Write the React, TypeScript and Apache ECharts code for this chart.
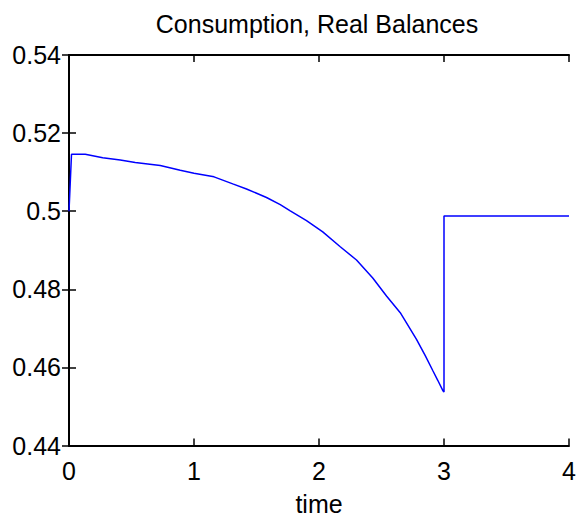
import React, { useEffect, useRef } from "react";
import * as echarts from "echarts";

const titleText = "Consumption, Real Balances";
const xLabel = "time";
const xTicks = { min: 0, max: 4, interval: 1 };
const yTicks = { min: 0.44, max: 0.54, interval: 0.02 };

const timeValues = [
  0, 0.02, 0.13, 0.27, 0.41, 0.53, 0.73, 0.89, 1.0, 1.16, 1.31, 1.42, 1.58,
  1.69, 1.77, 1.9, 2.03, 2.17, 2.3, 2.43, 2.54, 2.65, 2.78, 2.85, 2.91, 2.95,
  2.99, 3.0, 3.0, 4.0,
];
const consumptionValues = [
  0.5, 0.5146, 0.5146, 0.5137, 0.5131, 0.5125, 0.5117, 0.5105, 0.5097, 0.5088,
  0.507, 0.5057, 0.5035, 0.5017, 0.5001, 0.4976, 0.4947, 0.4909, 0.4875,
  0.4829, 0.4783, 0.474, 0.4672, 0.463, 0.4592, 0.4567, 0.4541, 0.4537,
  0.4988, 0.4988,
];

const FONT = "'Liberation Sans', Arial, Helvetica, sans-serif";

export default function App() {
  const ref = useRef<HTMLDivElement>(null);
  useEffect(() => {
    document.body.style.margin = "0";
    if (!ref.current) return;
    const chart = echarts.init(ref.current, null, { renderer: "svg" });
    const data = timeValues.map((t, i) => [t, consumptionValues[i]]);
    const axisLine = { show: true, lineStyle: { color: "#000", width: 2 } };
    const axisTick = {
      show: true,
      inside: true,
      length: 7,
      lineStyle: { color: "#000", width: 1.5 },
    };
    chart.setOption({
      animation: false,
      backgroundColor: "#fff",
      textStyle: { fontFamily: FONT },
      grid: { left: 69, right: 11, top: 55, bottom: 72, containLabel: false },
      graphic: [
        {
          type: "text",
          x: 317,
          y: 24,
          style: {
            text: titleText,
            font: `25px ${FONT}`,
            fill: "#000",
            textAlign: "center",
            textVerticalAlign: "middle",
          },
        },
      ],
      xAxis: [
        {
          type: "value",
          position: "bottom",
          ...xTicks,
          name: xLabel,
          nameLocation: "middle",
          nameGap: 58,
          nameTextStyle: {
            fontSize: 25,
            color: "#000",
            fontFamily: FONT,
            verticalAlign: "middle",
          },
          axisLine,
          axisTick,
          splitLine: { show: false },
          axisLabel: {
            fontSize: 25,
            color: "#000",
            fontFamily: FONT,
            margin: 13,
          },
        },
        {
          type: "value",
          position: "top",
          ...xTicks,
          axisLine,
          axisTick,
          splitLine: { show: false },
          axisLabel: { show: false },
        },
      ],
      yAxis: [
        {
          type: "value",
          position: "left",
          ...yTicks,
          axisLine,
          axisTick,
          splitLine: { show: false },
          axisLabel: {
            fontSize: 25,
            color: "#000",
            fontFamily: FONT,
            margin: 8,
            formatter: (v: number) => String(Number(v.toFixed(2))),
          },
        },
        {
          type: "value",
          position: "right",
          ...yTicks,
          axisLine,
          axisTick,
          splitLine: { show: false },
          axisLabel: { show: false },
        },
      ],
      series: [
        {
          type: "line",
          data,
          xAxisIndex: 0,
          yAxisIndex: 0,
          showSymbol: false,
          symbol: "none",
          lineStyle: { color: "#0000ff", width: 1.5 },
          itemStyle: { color: "#0000ff" },
        },
      ],
    });
    return () => chart.dispose();
  }, []);
  return <div ref={ref} style={{ width: 580, height: 521 }} />;
}
